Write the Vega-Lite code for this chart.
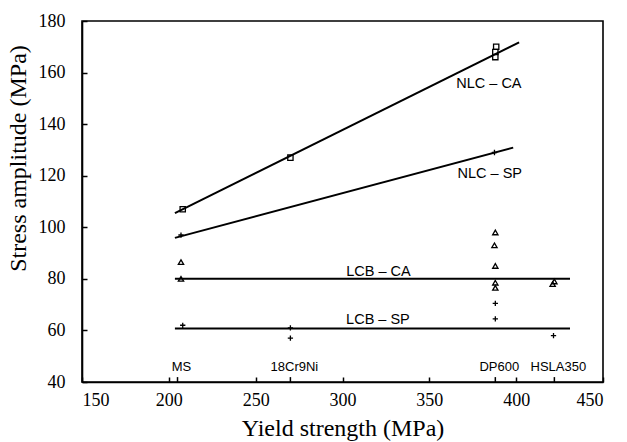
{
  "$schema": "https://vega.github.io/schema/vega-lite/v6.json",
  "autosize": "none",
  "width": 521,
  "height": 361,
  "padding": {"left": 82, "top": 21, "right": 24, "bottom": 60},
  "background": "white",
  "config": {
    "view": {"stroke": "black", "strokeWidth": 1.6},
    "axis": {"grid": false, "domainColor": "black", "domainWidth": 1.6, "tickColor": "black", "tickWidth": 1.5,
      "labelFont": "Liberation Serif", "labelFontSize": 18, "labelColor": "black",
      "titleFont": "Liberation Serif", "titleFontSize": 24, "titleFontWeight": 400, "titleColor": "black"}
  },
  "datasets": {
    "lines": [
      {"series": "NLC-CA", "ys": 203.5, "sa": 105.5},
      {"series": "NLC-CA", "ys": 401.7, "sa": 171.7},
      {"series": "NLC-SP", "ys": 203.5, "sa": 95.9},
      {"series": "NLC-SP", "ys": 398.3, "sa": 130.9},
      {"series": "LCB-CA", "ys": 203.5, "sa": 80},
      {"series": "LCB-CA", "ys": 431, "sa": 80},
      {"series": "LCB-SP", "ys": 203.5, "sa": 60.7},
      {"series": "LCB-SP", "ys": 431, "sa": 60.7}
    ],
    "points": [
      {"series": "NLC-CA", "ys": 208, "sa": 107},
      {"series": "NLC-CA", "ys": 270, "sa": 127},
      {"series": "NLC-CA", "ys": 388, "sa": 166},
      {"series": "NLC-CA", "ys": 388, "sa": 168},
      {"series": "NLC-CA", "ys": 388.5, "sa": 170},
      {"series": "NLC-SP", "ys": 207, "sa": 97},
      {"series": "NLC-SP", "ys": 387.5, "sa": 129},
      {"series": "LCB-CA", "ys": 207, "sa": 86.5},
      {"series": "LCB-CA", "ys": 207, "sa": 80},
      {"series": "LCB-CA", "ys": 388, "sa": 98},
      {"series": "LCB-CA", "ys": 387.5, "sa": 93},
      {"series": "LCB-CA", "ys": 388, "sa": 85},
      {"series": "LCB-CA", "ys": 388, "sa": 78.5},
      {"series": "LCB-CA", "ys": 388, "sa": 76.5},
      {"series": "LCB-CA", "ys": 422, "sa": 79},
      {"series": "LCB-CA", "ys": 421, "sa": 78},
      {"series": "LCB-SP", "ys": 208, "sa": 62},
      {"series": "LCB-SP", "ys": 270, "sa": 61},
      {"series": "LCB-SP", "ys": 270, "sa": 57},
      {"series": "LCB-SP", "ys": 388, "sa": 70.5},
      {"series": "LCB-SP", "ys": 388, "sa": 64.5},
      {"series": "LCB-SP", "ys": 421.5, "sa": 58}
    ],
    "labels": [
      {"label": "NLC – CA", "ys": 384.3, "sa": 155.5},
      {"label": "NLC – SP", "ys": 384.8, "sa": 120.8},
      {"label": "LCB – CA", "ys": 320.7, "sa": 82.7},
      {"label": "LCB – SP", "ys": 320.4, "sa": 63.9}
    ],
    "materials": [
      {"material": "MS", "ys": 205},
      {"material": "18Cr9Ni", "ys": 270},
      {"material": "DP600", "ys": 388},
      {"material": "HSLA350", "ys": 422}
    ]
  },
  "layer": [
    {
      "data": {"name": "lines"},
      "mark": {"type": "line", "color": "black", "strokeWidth": 2},
      "encoding": {
        "x": {"field": "ys", "type": "quantitative", "scale": {"domain": [150, 450], "nice": false, "zero": false},
          "axis": {"values": [150, 200, 250, 300, 350, 400, 450], "tickSize": -5, "labelPadding": 14, "title": "Yield strength  (MPa)", "titleY": 34, "titleBaseline": "top", "titleFontWeight": 400}},
        "y": {"field": "sa", "type": "quantitative", "scale": {"domain": [40, 180], "nice": false, "zero": false},
          "axis": {"values": [40, 60, 80, 100, 120, 140, 160, 180], "tickSize": -5, "labelPadding": 22, "title": "Stress amplitude  (MPa)", "titleX": -52, "titleY": 137, "titleBaseline": "bottom", "titleFontWeight": 400}},
        "detail": {"field": "series"}
      }
    },
    {
      "data": {"name": "points"},
      "mark": {"type": "point", "filled": false, "color": "black", "strokeWidth": 1.3, "size": 28, "opacity": 1},
      "encoding": {
        "x": {"field": "ys", "type": "quantitative"},
        "y": {"field": "sa", "type": "quantitative"},
        "shape": {"field": "series", "type": "nominal", "legend": null,
          "scale": {"domain": ["NLC-CA", "NLC-SP", "LCB-CA", "LCB-SP"], "range": ["square", "M-1,0L1,0M0,-1L0,1", "triangle-up", "M-1,0L1,0M0,-1L0,1"]}}
      }
    },
    {
      "data": {"name": "labels"},
      "mark": {"type": "text", "font": "Liberation Sans", "fontSize": 14.5, "color": "black", "align": "center", "baseline": "middle"},
      "encoding": {
        "x": {"field": "ys", "type": "quantitative"},
        "y": {"field": "sa", "type": "quantitative"},
        "text": {"field": "label"}
      }
    },
    {
      "data": {"name": "materials"},
      "mark": {"type": "text", "font": "Liberation Sans", "fontSize": 13, "color": "black", "align": "center", "baseline": "middle", "dx": 4},
      "encoding": {
        "x": {"field": "ys", "type": "quantitative"},
        "y": {"datum": 45.8},
        "text": {"field": "material"}
      }
    },
    {
      "data": {"name": "materials"},
      "mark": {"type": "rule", "color": "black", "strokeWidth": 1.5},
      "encoding": {
        "x": {"field": "ys", "type": "quantitative"},
        "y": {"datum": 40},
        "y2": {"datum": 41.9}
      }
    }
  ]
}
